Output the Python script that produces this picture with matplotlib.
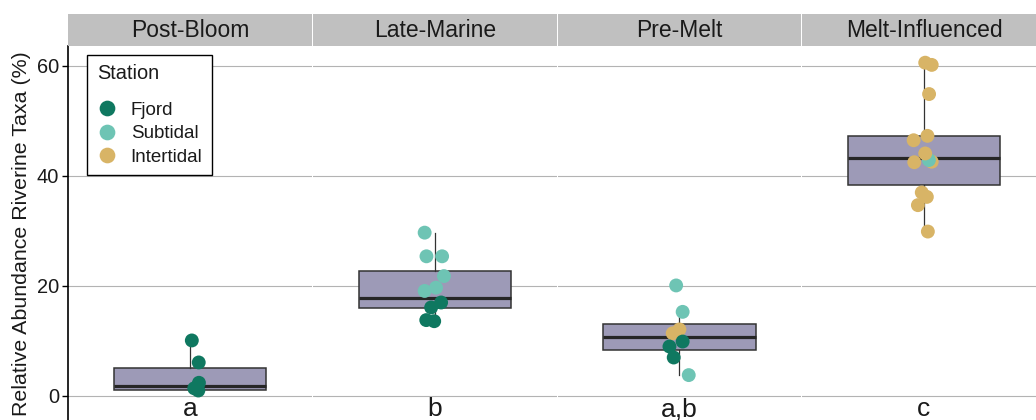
import matplotlib
matplotlib.use("Agg")
import matplotlib.pyplot as plt
from matplotlib.lines import Line2D

plt.rcParams['font.family'] = ['Liberation Sans', 'DejaVu Sans']

# ---- data ----
periods = ["Post-Bloom", "Late-Marine", "Pre-Melt", "Melt-Influenced"]
letters = ["a", "b", "a,b", "c"]

# box summaries per period
box_whislo = [0.9, 13.5, 3.8, 29.9]
box_q1 = [1.1, 16.0, 8.4, 38.3]
box_med = [1.8, 17.8, 10.7, 43.3]
box_q3 = [5.0, 22.7, 13.0, 47.2]
box_whishi = [10.1, 29.7, 15.5, 60.6]

# individual samples (value, station)
post_bloom_vals = [10.1, 6.1, 2.4, 1.4, 1.0]
post_bloom_station = ["Fjord", "Fjord", "Fjord", "Fjord", "Fjord"]

late_marine_vals = [29.7, 25.4, 25.4, 21.8, 19.7, 19.1, 17.0, 16.1, 13.8, 13.6]
late_marine_station = ["Subtidal"] * 6 + ["Fjord"] * 4

pre_melt_vals = [20.1, 15.3, 11.4, 12.1, 9.9, 9.0, 7.0, 3.8]
pre_melt_station = ["Subtidal", "Subtidal", "Intertidal", "Intertidal",
                    "Fjord", "Fjord", "Fjord", "Subtidal"]

melt_vals = [60.6, 60.2, 54.9, 47.3, 46.5, 42.6, 42.5, 42.9, 44.1,
             37.0, 36.2, 34.7, 29.9]
melt_station = ["Intertidal"] * 7 + ["Subtidal"] + ["Intertidal"] * 5

# horizontal jitter as seen in the figure (x offset from box centre)
post_bloom_jit = [0.008, 0.042, 0.043, 0.02, 0.04]
late_marine_jit = [-0.050, -0.041, 0.036, 0.045, 0.006, -0.050, 0.031, -0.018, -0.042, -0.003]
pre_melt_jit = [-0.016, 0.016, -0.033, 0.0, 0.016, -0.049, -0.028, 0.046]
melt_jit = [0.006, 0.038, 0.025, 0.017, -0.051, 0.038, -0.048, 0.024, 0.006,
            -0.011, 0.014, -0.030, 0.019]

all_vals = [post_bloom_vals, late_marine_vals, pre_melt_vals, melt_vals]
all_station = [post_bloom_station, late_marine_station, pre_melt_station, melt_station]
all_jit = [post_bloom_jit, late_marine_jit, pre_melt_jit, melt_jit]

station_colors = {"Fjord": "#0F7860", "Subtidal": "#6EC4B4", "Intertidal": "#D8B466"}

# ---- layout (pixel based, figure is 1036x420) ----
W, H = 1036, 420
fig = plt.figure(figsize=(W / 100, H / 100), dpi=100)

def fx(px):
    return px / W

def fy(py):
    return 1 - py / H

left0 = 68.4
step = 244.6
pw = 243.6
ptop, pbot = 45.7, 440.0
stop = 14.0

text_col = "#1a1a1a"

for i, name in enumerate(periods):
    left = left0 + i * step
    ax = fig.add_axes([fx(left), fy(pbot), pw / W, (pbot - ptop) / H])
    ax.set_xlim(0.4, 1.6)
    ax.set_ylim(-8, 63.69)
    ax.set_yticks([0, 20, 40, 60])
    ax.set_xticks([])
    ax.grid(axis="y", color="#B3B3B3", lw=0.8)
    ax.set_axisbelow(True)
    for s in ax.spines.values():
        s.set_visible(False)
    if i == 0:
        ax.spines["left"].set_visible(True)
        ax.spines["left"].set_color("black")
        ax.spines["left"].set_linewidth(1.2)
        ax.tick_params(axis="y", length=4, width=1, pad=2.5,
                       labelsize=14.4, labelcolor=text_col)
    else:
        ax.tick_params(axis="y", left=False, labelleft=False)

    stats = [dict(med=box_med[i], q1=box_q1[i], q3=box_q3[i],
                  whislo=box_whislo[i], whishi=box_whishi[i])]
    ax.bxp(stats, positions=[1], widths=0.75, showfliers=False, showcaps=False,
           patch_artist=True,
           boxprops=dict(facecolor="#9D9AB7", edgecolor="#333333", linewidth=1.1),
           medianprops=dict(color="#262626", linewidth=2.3),
           whiskerprops=dict(color="#333333", linewidth=0.9))

    xs = [1 + j for j in all_jit[i]]
    cols = [station_colors[s] for s in all_station[i]]
    ax.scatter(xs, all_vals[i], s=100, c=cols, linewidths=0, zorder=5)

    ax.text(1, -3.7, letters[i], ha="center", va="baseline",
            fontsize=19, color=text_col)

    sax = fig.add_axes([fx(left), fy(ptop), pw / W, (ptop - stop) / H])
    sax.set_facecolor("#C0C0C0")
    sax.set_xticks([])
    sax.set_yticks([])
    for s in sax.spines.values():
        s.set_visible(False)
    sax.text(0.5, 0.47, name, ha="center", va="center", fontsize=16.5,
             color=text_col, transform=sax.transAxes)

    if i == 0:
        handles = [Line2D([], [], marker="o", ls="none", markersize=11.3,
                          markerfacecolor=station_colors[k], markeredgewidth=0)
                   for k in station_colors]
        leg = ax.legend(handles, list(station_colors), title="Station",
                        loc="upper left", bbox_to_anchor=(fx(87.3), fy(55)),
                        bbox_transform=fig.transFigure, borderaxespad=0,
                        fontsize=13.5, title_fontsize=14.4, frameon=True,
                        fancybox=False, framealpha=1, edgecolor="black",
                        borderpad=0.5, handlelength=1.14, handletextpad=0.67,
                        labelspacing=0.35, alignment="left")
        leg.get_frame().set_linewidth(1.0)
        leg._legend_box.sep = 13
        for t in leg.get_texts():
            t.set_color(text_col)
        leg.get_title().set_color(text_col)

fig.text(fx(31), fy(234), "Relative Abundance Riverine Taxa (%)", rotation=90,
         ha="right", va="center", fontsize=15.4, color=text_col)

fig.savefig("out.png", dpi=100)
